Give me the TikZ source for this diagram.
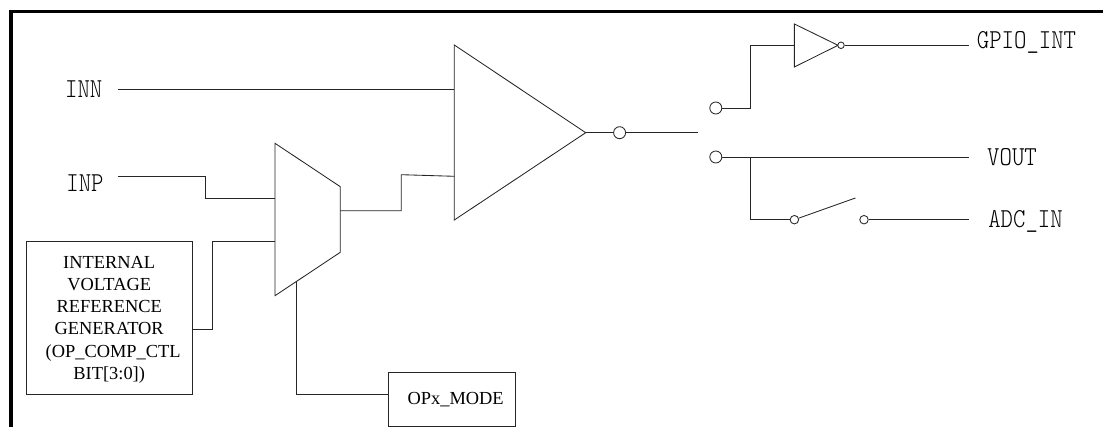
\documentclass[tikz,border=0pt]{standalone}
\usepackage{fontspec}
\newfontfamily\boxfont{Liberation Serif}
\tikzset{
  x=1pt,y=-1pt,
  wire/.style={draw=black!85,line width=0.85pt},
  frame/.style={draw=black,line width=3.2pt},
  pin/.style={circle,draw=black!85,fill=white,line width=0.85pt,inner sep=0pt,minimum size=12pt},
  smallpin/.style={circle,draw=black!85,fill=white,line width=0.85pt,inner sep=0pt,minimum size=8.5pt},
  tinypin/.style={circle,draw=black!85,fill=white,line width=0.85pt,inner sep=0pt,minimum size=6.5pt},
  sig/.style={inner sep=0pt,font=\fontsize{23.6pt}{24pt}\ttfamily\fontseries{l}\selectfont},
  blockbox/.style={draw=black!85,line width=0.85pt,inner sep=0pt,align=center,font=\fontsize{18.4pt}{22.2pt}\selectfont\boxfont},
}
\newcommand{\tall}[1]{\scalebox{1}[1.16]{#1}}
\begin{document}
\begin{tikzpicture}
\useasboundingbox (0,0) rectangle (1103,427);
\fill[white] (0,0) rectangle (1103,427);
\draw[frame] (11,427) -- (11,11.5) -- (1103,11.5);

% labels
\node[sig] (inn) at (83.7,89) {\tall{INN}};
\node[sig] (inp) at (85,183) {\tall{INP}};
\node[sig] (gpio) at (1026.5,42.5) {\tall{GPIO\_INT}};
\node[sig] (vout) at (1012,157) {\tall{VOUT}};
\node[sig] (adc) at (1025.5,221) {\tall{ADC\_IN}};

% comparator and mux
\draw[wire] (454.3,45) coordinate (ct) -- (585.7,132.7) coordinate (co) -- (454.3,220) coordinate (cb) -- cycle;
\draw[wire] (275,143.3) coordinate (mt) -- (340.3,186.7) coordinate (mr1) -- (340.3,252.3) coordinate (mr2) -- (275,295.7) coordinate (mb) -- cycle;

% blocks
\node[blockbox,minimum width=166.3pt,minimum height=152.3pt] (ref) at (109.2,317.8) {\rule{0pt}{16pt}INTERNAL\\VOLTAGE\\REFERENCE\\GENERATOR\\\hspace*{8pt}(OP\_COMP\_CTL\\BIT[3:0])};
\node[blockbox,minimum width=126.7pt,minimum height=53.7pt] (mode) at (451.7,399.2) {\hspace*{8pt}OPx\_MODE};

% inputs
\coordinate (innend) at (118,89);
\coordinate (inpend) at (118,176);
\draw[wire] (innend) -- (454.3,89);
\draw[wire] (inpend) -- (205,176) -- (205,198) -- (275,198);
\draw[wire] (ref.east |- 0,329) -- (212,329) -- (212,241.5) -- (275,241.5);
\draw[wire] (mode.west |- 0,394) -- (296.7,394) -- (296.7,281);
\draw[wire] (340.3,210.7) -- (401.3,210.7) -- (401.3,174.7) -- (454.3,176.3);

% output
\node[pin] (o1) at (619.6,132.7) {};
\coordinate (swfree) at (697.5,132.7);
\draw[wire] (co) -- (o1) -- (swfree);
\node[pin] (a) at (715.8,108) {};
\node[pin] (b) at (715.8,157) {};
\draw[wire] (a) -- (750.8,108) -- (750.8,45.3) -- (794.4,45.3);
\draw[wire] (794.4,24) coordinate (it) -- (838,45.3) coordinate (ip) -- (794.4,67) coordinate (ib) -- cycle;
\node[tinypin] (inv) at (841,45.3) {};
\coordinate (gpioend) at (969,45.3);
\draw[wire] (inv) -- (gpioend);
\coordinate (voutend) at (969,157);
\draw[wire] (b) -- (voutend);
\node[smallpin] (s1) at (794.4,219.7) {};
\node[smallpin] (s2) at (864,219.7) {};
\coordinate (blade) at (855.4,198);
\coordinate (adcend) at (969,219.7);
\draw[wire] (750.8,157) -- (750.8,219.7) -- (s1);
\draw[wire] (s1) -- (blade);
\draw[wire] (s2) -- (adcend);
\end{tikzpicture}
\end{document}
